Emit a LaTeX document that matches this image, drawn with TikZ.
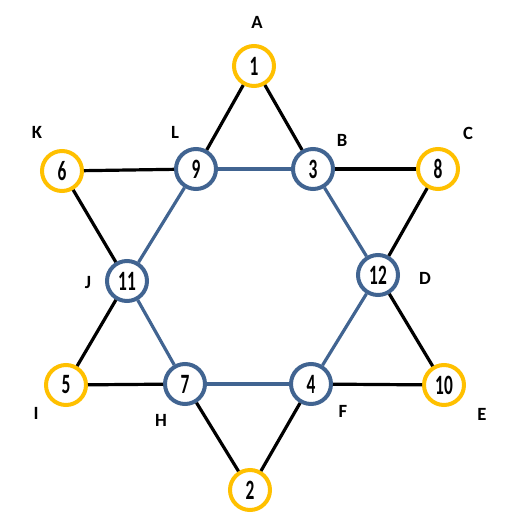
\documentclass[tikz,border=0pt]{standalone}
\usepackage{fontspec}
\setmainfont{Carlito}
\definecolor{gold}{RGB}{255,192,0}
\definecolor{steel}{RGB}{65,100,145}
\begin{document}
\begin{tikzpicture}[x=0.75pt,y=-0.75pt,
  numnode/.style={circle,line width=3pt,minimum size=30pt,inner sep=0pt,fill=white,
    font=\bfseries\fontsize{21}{21}\selectfont},
  outer/.style={numnode,draw=gold},
  inner/.style={numnode,draw=steel},
  lab/.style={font=\bfseries\fontsize{14}{15}\selectfont},
  blk/.style={line width=2.4pt,black},
  blu/.style={line width=2.4pt,steel}]
\useasboundingbox (0,0) rectangle (520,517);
\newcommand{\cnd}[1]{\scalebox{0.62}[1]{#1}}
% nodes
\node[outer] (n1) at (254,66) {\cnd{1}};
\node[inner] (n9) at (196,169) {\cnd{9}};
\node[inner] (n3) at (313,169) {\cnd{3}};
\node[outer] (n6) at (62,171) {\cnd{6}};
\node[outer] (n8) at (438,169) {\cnd{8}};
\node[inner] (n11) at (127,281) {\cnd{11}};
\node[inner] (n12) at (378,275) {\cnd{12}};
\node[outer] (n5) at (66,385) {\cnd{5}};
\node[inner] (n7) at (185,384) {\cnd{7}};
\node[inner] (n4) at (311,384) {\cnd{4}};
\node[outer] (n10) at (444,385) {\cnd{10}};
\node[outer] (n2) at (250,490) {\cnd{2}};
% edges
\draw[blk] (n1) -- (n9);
\draw[blk] (n1) -- (n3);
\draw[blk] (n6) -- (n9);
\draw[blk] (n3) -- (n8);
\draw[blk] (n6) -- (n11);
\draw[blk] (n8) -- (n12);
\draw[blk] (n11) -- (n5);
\draw[blk] (n12) -- (n10);
\draw[blk] (n5) -- (n7);
\draw[blk] (n4) -- (n10);
\draw[blk] (n7) -- (n2);
\draw[blk] (n4) -- (n2);
\draw[blu] (n9) -- (n3);
\draw[blu] (n3) -- (n12);
\draw[blu] (n12) -- (n4);
\draw[blu] (n4) -- (n7);
\draw[blu] (n7) -- (n11);
\draw[blu] (n11) -- (n9);
% labels
\node[lab] (lA) at (257,22) {A};
\node[lab] (lB) at (342,140) {B};
\node[lab] (lC) at (468,133) {C};
\node[lab] (lD) at (425,278) {D};
\node[lab] (lE) at (482,414) {E};
\node[lab] (lF) at (343,411) {F};
\node[lab] (lH) at (161,420) {H};
\node[lab] (lI) at (36,413) {I};
\node[lab] (lJ) at (88,283) {J};
\node[lab] (lK) at (37,132) {K};
\node[lab] (lL) at (175,132) {L};
\end{tikzpicture}
\end{document}
